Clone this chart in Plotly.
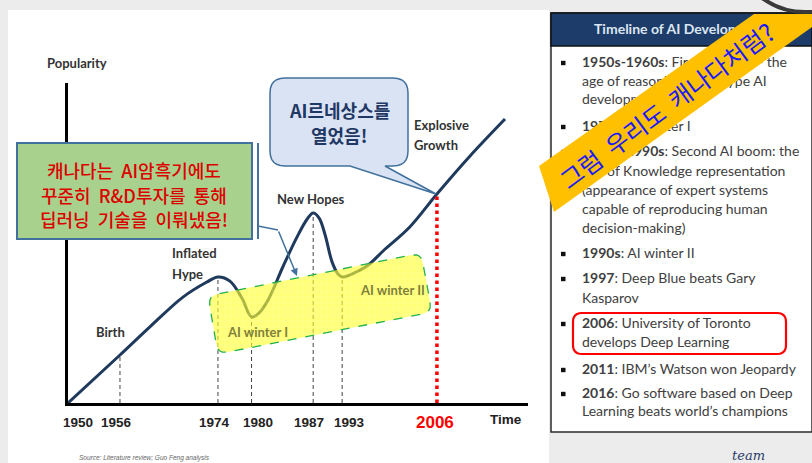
import numpy as np
import plotly.graph_objects as go

W, H = 812, 463

# ---------------- data ----------------
# schematic time axis (0..100 along the drawn axis) and popularity (0..100)
curve_t = [0, 11.3, 17.8, 25.0, 30.2, 32.6, 35.2, 37.8, 39.9, 41.5, 43.5, 46.7,
           49.8, 52.0, 53.3, 54.6, 55.9, 57.4, 58.7, 59.6, 61.7, 65.0, 68.5, 74.3,
           80.2, 87.4, 95.0]
curve_pop = [0, 15.0, 23.8, 33.1, 37.8, 39.4, 38.1, 32.8, 26.9, 28.1, 32.2, 42.5,
             51.9, 57.5, 59.4, 57.8, 52.5, 44.1, 40.3, 39.4, 40.3, 42.8, 47.5, 55.0,
             65.3, 77.2, 88.75]
tick_years = ["1950", "1956", "1974", "1980", "1987", "1993", "2006"]
tick_pos = [0, 11.3, 32.6, 39.9, 53.3, 59.6, 80.2]
tick_shift = [10, -3, -3, 6, -4, 7, -2]
drop_years = ["1956", "1974", "1980", "1987", "1993"]
highlight_year = "2006"

timeline_lines = [
    (63, "<b>1950s-1960s</b>: First AI boom - the", True),
    (82, "age of reasoning, prototype AI", False),
    (100, "development", False),
    (127, "<b>1970s</b>: AI winter I", True),
    (152, "<b>1980s-1990s</b>: Second AI boom: the", True),
    (172, "age of Knowledge representation", False),
    (191, "(appearance of expert systems", False),
    (210, "capable of reproducing human", False),
    (229, "decision-making)", False),
    (254, "<b>1990s</b>: AI winter II", True),
    (279, "<b>1997</b>: Deep Blue beats Gary", True),
    (299, "Kasparov", False),
    (324, "<b>2006</b>: University of Toronto", True),
    (343, "develops Deep Learning", False),
    (370, "<b>2011</b>: IBM\u2019s Watson won Jeopardy", True),
    (394, "<b>2016</b>: Go software based on Deep", True),
    (412, "Learning beats world\u2019s champions", False),
]

# ---------------- helpers ----------------
def PX(x):
    return x / W

def PY(y):
    return 1 - y / H

def rounded(pts, radii, n=7):
    out = []
    m = len(pts)
    for i in range(m):
        p1 = np.array(pts[i], float)
        r = radii[i]
        if r <= 0:
            out.append(tuple(p1))
            continue
        p0 = np.array(pts[i - 1], float)
        p2 = np.array(pts[(i + 1) % m], float)
        d1 = (p0 - p1) / np.linalg.norm(p0 - p1)
        d2 = (p2 - p1) / np.linalg.norm(p2 - p1)
        a = p1 + d1 * r
        b = p1 + d2 * r
        for t in np.linspace(0, 1, n):
            q = (1 - t) ** 2 * a + 2 * (1 - t) * t * p1 + t ** 2 * b
            out.append(tuple(q))
    return out

def paper_path(pts):
    return "M " + " L ".join(f"{PX(x):.5f},{PY(y):.5f}" for x, y in pts) + " Z"

KR = "Noto Sans CJK KR"
LAT = "Lato"

fig = go.Figure()

# main curve
fig.add_trace(go.Scatter(x=curve_t, y=curve_pop, mode="lines",
                         line=dict(color="#1f3a5c", width=3, shape="spline", smoothing=1.0),
                         hoverinfo="skip", showlegend=False))

# dashed drop lines
dx, dy = [], []
for yr in drop_years:
    p = tick_pos[tick_years.index(yr)]
    v = float(np.interp(p, curve_t, curve_pop))
    dx += [p, p, None]
    dy += [0, v, None]
fig.add_trace(go.Scatter(x=dx, y=dy, mode="lines",
                         line=dict(color="#444444", width=1, dash="4px,3px"),
                         hoverinfo="skip", showlegend=False))
hp = tick_pos[tick_years.index(highlight_year)]
hv = float(np.interp(hp, curve_t, curve_pop))
fig.add_trace(go.Scatter(x=[hp, hp], y=[0, hv], mode="lines",
                         line=dict(color="#ff0000", width=3.5, dash="dot"),
                         hoverinfo="skip", showlegend=False))

# yellow AI-winter band (overlay pixel axis)
ypts = rounded([(208, 296), (421, 253), (432, 312), (218, 354)], [10, 10, 10, 10])
ypts.append(ypts[0])
fig.add_trace(go.Scatter(x=[p[0] for p in ypts], y=[p[1] for p in ypts], mode="lines",
                         fill="toself", xaxis="x2", yaxis="y2",
                         fillcolor="rgba(255,255,40,0.62)",
                         fillpattern=dict(shape="+", bgcolor="rgba(255,255,40,0.62)",
                                          fgcolor="rgba(255,255,255,0.45)", size=6, solidity=0.15),
                         line=dict(color="#22b14c", width=1.3, dash="dash"),
                         hoverinfo="skip", showlegend=False))

# timeline text (as trace so banner covers it)
fig.add_trace(go.Scatter(x=[582] * len(timeline_lines), y=[l[0] for l in timeline_lines],
                         text=[l[1] for l in timeline_lines], mode="text",
                         textposition="middle right", xaxis="x2", yaxis="y2",
                         textfont=dict(family=LAT, size=14, color="#404040"),
                         hoverinfo="skip", showlegend=False))
fig.add_trace(go.Scatter(x=[681], y=[30], text=["<b>Timeline of AI Development</b>"], mode="text",
                         textposition="middle center", xaxis="x2", yaxis="y2",
                         textfont=dict(family=LAT, size=14, color="#dce6f2"),
                         hoverinfo="skip", showlegend=False))

shapes = []
# backgrounds
shapes.append(dict(type="rect", xref="paper", yref="paper", x0=PX(8), x1=PX(549), y0=PY(463), y1=PY(10),
                   fillcolor="white", line=dict(width=0), layer="below"))
shapes.append(dict(type="rect", xref="paper", yref="paper", x0=PX(551), x1=PX(812), y0=PY(432), y1=PY(13),
                   fillcolor="white", line=dict(color="#2b2b2b", width=1.5), layer="below"))
shapes.append(dict(type="rect", xref="paper", yref="paper", x0=PX(551), x1=PX(812), y0=PY(46), y1=PY(13),
                   fillcolor="#1d3c69", line=dict(color="#111111", width=1.5), layer="below"))
# bullets
for y, _, b in timeline_lines:
    if b:
        shapes.append(dict(type="rect", xref="paper", yref="paper", x0=PX(561), x1=PX(565.5),
                           y0=PY(y + 2.2), y1=PY(y - 2.2), fillcolor="#111111", line=dict(width=0), layer="below"))
# red rounded box around 2006 item
shapes.append(dict(type="path", xref="paper", yref="paper",
                   path=paper_path(rounded([(573, 313), (786, 313), (786, 354), (573, 354)], [9, 9, 9, 9])),
                   line=dict(color="#ff0000", width=2.2), fillcolor="rgba(0,0,0,0)", layer="below"))
# green callout box
shapes.append(dict(type="rect", xref="paper", yref="paper", x0=PX(17), x1=PX(252), y0=PY(239), y1=PY(143),
                   fillcolor="#a9d18e", line=dict(color="#41719c", width=2), layer="above"))
shapes.append(dict(type="line", xref="paper", yref="paper", x0=PX(258), x1=PX(258), y0=PY(239), y1=PY(143),
                   line=dict(color="#41719c", width=2), layer="above"))
shapes.append(dict(type="line", xref="paper", yref="paper", x0=PX(258), x1=PX(278), y0=PY(226), y1=PY(230),
                   line=dict(color="#41719c", width=1.5), layer="above"))
# speech bubble
bub = rounded([(270, 78), (408, 78), (408, 166), (385, 166), (436, 194), (350, 166), (270, 166)],
              [15, 15, 15, 0, 0, 0, 15])
shapes.append(dict(type="path", xref="paper", yref="paper", path=paper_path(bub),
                   fillcolor="#dae3f3", line=dict(color="#41719c", width=1.5), layer="above"))
# banner
shapes.append(dict(type="path", xref="paper", yref="paper",
                   path=paper_path([(539, 166), (554, 212), (812, 27), (812, 14), (754, 14)]),
                   fillcolor="#ffc000", line=dict(width=0), layer="above"))
# dark arc top-right
shapes.append(dict(type="circle", xref="paper", yref="paper", x0=PX(733), x1=PX(877), y0=PY(12), y1=PY(-132),
                   line=dict(color="#3a3a3a", width=4), fillcolor="rgba(0,0,0,0)", layer="above"))

ann = []
def A(x, y, text, size=13, color="#333333", family=LAT, xanchor="center", weight=None, **kw):
    f = dict(size=size, color=color, family=family)
    if weight is not None:
        f["weight"] = weight
    ann.append(dict(x=PX(x), y=PY(y), xref="paper", yref="paper", text=text, showarrow=False,
                    xanchor=xanchor, yanchor="middle", font=f, **kw))

# axis labels
A(77, 63, "<b>Popularity</b>", 13)
A(506, 419, "<b>Time</b>", 13.5, "#222222", "Liberation Sans")
for lab, pos, sh in zip(tick_years, tick_pos, tick_shift):
    red = lab == highlight_year
    ann.append(dict(x=pos, y=PY(422), xref="x", yref="paper", text=f"<b>{lab}</b>", showarrow=False,
                    xshift=sh, yanchor="middle",
                    font=dict(size=17 if red else 13.5, color="#ff0000" if red else "#222222",
                              family="Liberation Sans")))
# phase labels
A(110, 332, "<b>Birth</b>", 13)
A(170, 253, "<b>Inflated</b>", 13, xanchor="left")
A(170, 274, "<b>Hype</b>", 13, xanchor="left")
A(311, 199, "<b>New Hopes</b>", 13)
A(412, 125, "<b>Explosive</b>", 13, xanchor="left")
A(412, 145, "<b>Growth</b>", 13, xanchor="left")
A(257, 332, "<b>AI winter I</b>", 13, "#80803a")
A(392, 290, "<b>AI winter II</b>", 13, "#80803a")
# callout texts
A(134, 170, "캐나다는  AI암흑기에도", 18, "#dd0000", KR, weight=500)
A(134, 195, "꾸준히  R&amp;D투자를  통해", 18, "#dd0000", KR, weight=500)
A(134, 219, "딥러닝  기술을  이뤄냈음!", 18, "#dd0000", KR, weight=500)
A(339, 110, "<b>AI르네상스를</b>", 18, "#1f3864", KR)
A(339, 135, "<b>열었음!</b>", 18, "#1f3864", KR)
# banner text
A(666, 105, "그럼  우리도  캐나다처럼?", 24.5, "#1a1aff", KR, textangle=-36.5)
# source + logo
A(77, 458, "<i>Source: Literature review; Guo Feng analysis</i>", 6.5, "#666666", "Liberation Sans", xanchor="left")
A(748, 455, "<i>team</i>", 13, "#2a3a6a", "DejaVu Serif")

# leader arrow
ann.append(dict(x=PX(297), y=PY(276), xref="paper", yref="paper", text="", showarrow=True,
                ax=-19, ay=-46, arrowhead=2, arrowsize=1, arrowwidth=1.5, arrowcolor="#41719c"))

fig.update_layout(
    width=W, height=H, autosize=False,
    margin=dict(l=0, r=0, t=0, b=0),
    paper_bgcolor="#ececec", plot_bgcolor="rgba(0,0,0,0)",
    shapes=shapes, annotations=ann, showlegend=False,
    xaxis=dict(domain=[68 / W, 528 / W], range=[0, 100], showline=True, linecolor="#000000", linewidth=3,
               showticklabels=False, showgrid=False, zeroline=False, ticks="", fixedrange=True),
    yaxis=dict(domain=[1 - 403 / H, 1 - 83 / H], range=[0, 100], showline=True, linecolor="#000000",
               linewidth=3, showticklabels=False, showgrid=False, zeroline=False, ticks="", fixedrange=True),
    xaxis2=dict(domain=[0, 1], range=[0, W], visible=False, anchor="y2", fixedrange=True),
    yaxis2=dict(domain=[0, 1], range=[H, 0], visible=False, anchor="x2", fixedrange=True),
)

fig.write_html("out.html", config={"displayModeBar": False},
               post_script="document.body.style.margin='0';document.body.style.overflow='hidden';")
